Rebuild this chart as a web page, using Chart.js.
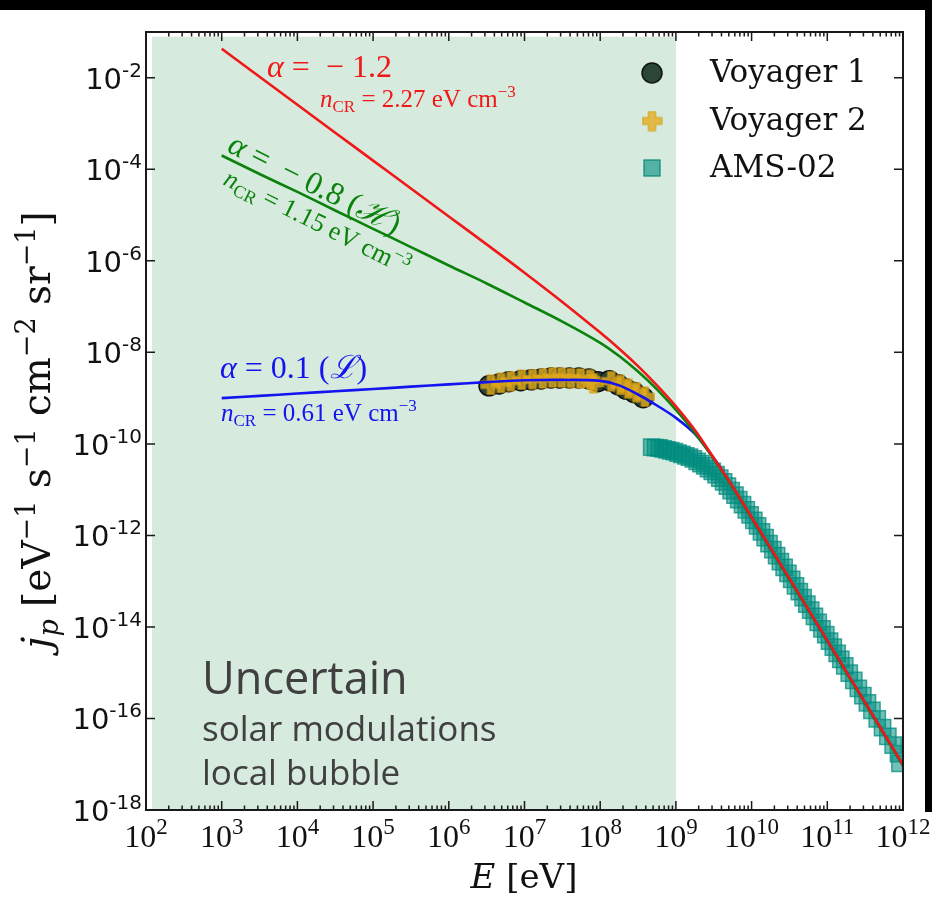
<!DOCTYPE html>
<html>
<head>
<meta charset="utf-8">
<script src="https://cdn.jsdelivr.net/npm/chart.js@4.4.0/dist/chart.umd.min.js"></script>
<style>
  html, body { margin: 0; padding: 0; background: #fff; }
</style>
</head>
<body>
<canvas id="myChart" width="932" height="898"></canvas>
<script>
// energies in eV, fluxes in eV^-1 s^-1 cm^-2 sr^-1
const curveE = [1e3, 3.16e3, 1e4, 3.16e4, 1e5, 3.16e5, 1e6, 3.16e6, 1e7, 3.16e7, 1e8, 1.78e8, 3.16e8, 5.62e8,
  1e9, 1.78e9, 3.16e9, 5.62e9, 1e10, 3.16e10, 1e11, 3.16e11, 1e12]
const fluxRed = [4.3e-2, 1.05e-2, 2.57e-3, 6.3e-4, 1.55e-4, 3.8e-5, 9.3e-6, 2.29e-6, 5.5e-7, 1.26e-7, 2.7e-8, 1.2e-8, 5.0e-9, 1.9e-9,
  6.6e-10, 2.0e-10, 4.9e-11, 1.17e-11, 2.5e-12, 1.15e-13, 5.1e-15, 2.24e-16, 9.8e-18]
const fluxGreen = [2.0e-4, 7.9e-5, 3.2e-5, 1.26e-5, 5.0e-6, 2.0e-6, 7.9e-7, 3.2e-7, 1.23e-7, 4.7e-8, 1.62e-8, 8.3e-9, 3.8e-9, 1.55e-9,
  5.5e-10, 1.74e-10, 4.7e-11, 1.12e-11, 2.4e-12, 1.1e-13, 4.9e-15, 2.14e-16, 9.3e-18]
const fluxBlue = [1.0e-9, 1.12e-9, 1.26e-9, 1.41e-9, 1.58e-9, 1.78e-9, 2.0e-9, 2.24e-9, 2.45e-9, 2.5e-9, 2.38e-9, 1.9e-9, 1.2e-9, 6.9e-10,
  3.7e-10, 1.66e-10, 4.9e-11, 1.15e-11, 2.45e-12, 1.12e-13, 5.0e-15, 2.2e-16, 9.5e-18]

const voy1E = [3.4e6, 4.6e6, 6.2e6, 8.9e6, 1.23e7, 1.66e7, 2.24e7, 2.9e7, 3.9e7, 5.2e7, 7.1e7, 9.3e7, 1.32e8, 1.74e8, 2.19e8, 2.82e8, 3.7e8]
const voy1Flux = [1.86e-9, 2.04e-9, 2.29e-9, 2.4e-9, 2.51e-9, 2.63e-9, 2.75e-9, 2.75e-9, 2.75e-9, 2.75e-9, 2.63e-9, 2.29e-9, 2.4e-9, 1.95e-9, 1.58e-9, 1.32e-9, 1.02e-9]
const voy2E = [3.6e6, 4.9e6, 6.6e6, 9.2e6, 1.28e7, 1.75e7, 2.35e7, 3.1e7, 4.1e7, 5.5e7, 7.4e7, 8.1e7, 1.4e8, 1.85e8, 2.35e8, 3.0e8, 3.9e8]
const voy2Flux = [1.95e-9, 2.14e-9, 2.34e-9, 2.51e-9, 2.6e-9, 2.69e-9, 2.82e-9, 2.82e-9, 2.75e-9, 2.69e-9, 2.51e-9, 2.1e-9, 2.34e-9, 1.95e-9, 1.62e-9, 1.35e-9, 1.07e-9]

const amsE = [4.79e8, 5.37e8, 6.03e8, 6.76e8, 7.59e8, 8.51e8, 9.55e8,
  1.07e9, 1.2e9, 1.35e9, 1.51e9, 1.7e9, 1.91e9, 2.14e9, 2.4e9, 2.69e9, 3.02e9, 3.39e9, 3.8e9, 4.27e9, 4.79e9, 5.37e9, 6.03e9, 6.76e9, 7.59e9, 8.51e9, 9.55e9,
  1.07e10, 1.2e10, 1.35e10, 1.51e10, 1.7e10, 1.91e10, 2.14e10, 2.4e10, 2.69e10, 3.02e10, 3.39e10, 3.8e10, 4.27e10, 4.79e10, 5.37e10, 6.03e10, 6.76e10, 7.59e10, 8.51e10, 9.55e10,
  1.07e11, 1.2e11, 1.35e11, 1.51e11, 1.7e11, 1.95e11, 2.24e11, 2.57e11, 2.95e11, 3.39e11, 3.89e11, 4.57e11, 5.37e11, 6.31e11, 7.41e11, 8.71e11, 9.12e11]
const amsFlux = [8.51e-11, 8.32e-11, 8.13e-11, 7.76e-11, 7.41e-11, 7.08e-11, 6.76e-11,
  6.31e-11, 5.89e-11, 5.5e-11, 5.13e-11, 4.68e-11, 4.17e-11, 3.72e-11, 3.31e-11, 2.88e-11, 2.51e-11, 2.14e-11, 1.78e-11, 1.48e-11, 1.2e-11, 9.55e-12, 7.59e-12, 6.03e-12, 4.68e-12, 3.63e-12, 2.82e-12,
  2.14e-12, 1.62e-12, 1.2e-12, 8.91e-13, 6.61e-13, 4.9e-13, 3.63e-13, 2.69e-13, 2.0e-13, 1.48e-13, 1.1e-13, 7.94e-14, 5.89e-14, 4.37e-14, 3.16e-14, 2.34e-14, 1.7e-14, 1.26e-14, 9.12e-15, 6.76e-15,
  4.9e-15, 3.63e-15, 2.63e-15, 1.95e-15, 1.41e-15, 9.77e-16, 6.76e-16, 4.57e-16, 3.16e-16, 2.19e-16, 1.51e-16, 9.77e-17, 6.31e-17, 4.07e-17, 2.63e-17, 1.7e-17, 1.05e-17]

const xTickExps = [2, 3, 4, 5, 6, 7, 8, 9, 10, 11, 12]
const yTickExps = [-2, -4, -6, -8, -10, -12, -14, -16, -18]
const legendLabels = ['Voyager 1', 'Voyager 2', 'AMS-02']

const RED = '#f01818', GREEN = '#0b820b', BLUE = '#1414f0'
const SERIF = '"Liberation Serif", "DejaVu Serif", serif'
const DSERIF = '"DejaVu Serif", serif'
const SANS = '"DejaVu Sans", sans-serif'

function toXY(xs, ys) {
  return xs.map((v, i) => ({ x: v, y: ys[i] }))
}

// filled plus marker for Voyager 2
function makePlus(size, arm) {
  const c = document.createElement('canvas')
  c.width = c.height = size
  const g = c.getContext('2d')
  const a = (size - arm) / 2, b = a + arm, p = 1, s = size - 1
  g.beginPath()
  g.moveTo(a, p); g.lineTo(b, p); g.lineTo(b, a); g.lineTo(s, a); g.lineTo(s, b); g.lineTo(b, b)
  g.lineTo(b, s); g.lineTo(a, s); g.lineTo(a, b); g.lineTo(p, b); g.lineTo(p, a); g.lineTo(a, a)
  g.closePath()
  g.fillStyle = 'rgba(228,172,28,0.78)'
  g.fill()
  g.strokeStyle = 'rgba(214,160,20,0.9)'
  g.lineWidth = 1.2
  g.stroke()
  return c
}
const plusImg = makePlus(21, 7)

// draw a run of text pieces (sub/superscripts) one after another
function drawRich(ctx, parts, x, y, align) {
  let w = 0
  parts.forEach(p => { ctx.font = p.f; w += ctx.measureText(p.t).width })
  let cx = align === 'center' ? x - w / 2 : align === 'right' ? x - w : x
  ctx.textAlign = 'left'
  ctx.textBaseline = 'alphabetic'
  parts.forEach(p => {
    ctx.font = p.f
    ctx.fillText(p.t, cx, y + (p.dy || 0))
    cx += ctx.measureText(p.t).width
  })
}

function nCR(value, big, small) {
  return [
    { t: 'n', f: 'italic ' + big + 'px ' + SERIF },
    { t: 'CR', f: small + 'px ' + SERIF, dy: 5 },
    { t: ' = ' + value + ' eV cm', f: big + 'px ' + SERIF },
    { t: '\u22123', f: small + 'px ' + SERIF, dy: -10 }
  ]
}

const decor = {
  id: 'decor',
  beforeDatasetsDraw(chart) {
    const { ctx, scales: { x, y } } = chart
    ctx.save()
    // uncertain region
    const l = x.getPixelForValue(1.2e2), r = x.getPixelForValue(1e9)
    const t = y.getPixelForValue(7.9e-2), b = y.getPixelForValue(1e-18)
    ctx.fillStyle = 'rgb(214,234,222)'
    ctx.fillRect(l, t, r - l, b - t)

    ctx.fillStyle = '#404040'
    ctx.textAlign = 'left'
    ctx.textBaseline = 'alphabetic'
    ctx.font = '45px "Open Sans", sans-serif'
    ctx.fillText('Uncertain', 202, 694)
    ctx.font = '35px "Open Sans", sans-serif'
    ctx.fillText('solar modulations', 202, 741)
    ctx.fillText('local bubble', 202, 785)
    ctx.restore()
  },
  afterDatasetsDraw(chart) {
    const { ctx, chartArea: ca, scales: { x, y } } = chart
    ctx.save()

    // frame
    ctx.strokeStyle = '#1a1a1a'
    ctx.lineWidth = 2
    ctx.strokeRect(ca.left, ca.top, ca.right - ca.left, ca.bottom - ca.top)

    // ticks
    ctx.lineWidth = 1.5
    ctx.beginPath()
    xTickExps.forEach((n, i) => {
      const px = x.getPixelForValue(Math.pow(10, n))
      ctx.moveTo(px, ca.bottom); ctx.lineTo(px, ca.bottom - 9)
      ctx.moveTo(px, ca.top); ctx.lineTo(px, ca.top + 9)
      if (i < xTickExps.length - 1) {
        for (let k = 2; k <= 9; k++) {
          const m = x.getPixelForValue(k * Math.pow(10, n))
          ctx.moveTo(m, ca.bottom); ctx.lineTo(m, ca.bottom - 4.5)
          ctx.moveTo(m, ca.top); ctx.lineTo(m, ca.top + 4.5)
        }
      }
    })
    yTickExps.forEach(n => {
      const py = y.getPixelForValue(Math.pow(10, n))
      ctx.moveTo(ca.left, py); ctx.lineTo(ca.left + 9, py)
      ctx.moveTo(ca.right, py); ctx.lineTo(ca.right - 9, py)
    })
    ctx.stroke()

    // tick labels
    ctx.fillStyle = '#111'
    xTickExps.forEach(n => {
      const px = x.getPixelForValue(Math.pow(10, n))
      drawRich(ctx, [
        { t: '10', f: '32px ' + SERIF },
        { t: String(n), f: '23px ' + SERIF, dy: -13 }
      ], px, 847, 'center')
    })
    yTickExps.forEach(n => {
      const py = y.getPixelForValue(Math.pow(10, n))
      drawRich(ctx, [
        { t: '10', f: '29px ' + SANS },
        { t: String(n), f: '20px ' + SANS, dy: -12 }
      ], 142, py + 11, 'right')
    })

    // axis titles
    drawRich(ctx, [
      { t: 'E', f: 'italic 34px ' + DSERIF },
      { t: ' [eV]', f: '34px ' + DSERIF }
    ], 524, 888, 'center')

    ctx.save()
    ctx.translate(50, 430)
    ctx.rotate(-Math.PI / 2)
    const big = '39px ' + DSERIF, sup = '27px ' + DSERIF
    drawRich(ctx, [
      { t: 'j', f: 'italic ' + big },
      { t: 'p', f: 'italic ' + sup, dy: 8 },
      { t: ' [eV', f: big },
      { t: '\u22121', f: sup, dy: -15 },
      { t: ' s', f: big },
      { t: '\u22121', f: sup, dy: -15 },
      { t: ' cm', f: big },
      { t: '\u22122', f: sup, dy: -15 },
      { t: ' sr', f: big },
      { t: '\u22121', f: sup, dy: -15 },
      { t: ']', f: big }
    ], 0, 0, 'center')
    ctx.restore()

    // curve annotations
    ctx.fillStyle = RED
    drawRich(ctx, [
      { t: '\u03b1', f: 'italic 32px ' + SERIF },
      { t: ' =  \u2212 1.2', f: '32px ' + SERIF }
    ], 267, 77, 'left')
    drawRich(ctx, nCR('2.27', 25, 17), 320, 107, 'left')

    ctx.fillStyle = GREEN
    ctx.save()
    ctx.translate(226, 151)
    ctx.rotate(26.5 * Math.PI / 180)
    drawRich(ctx, [
      { t: '\u03b1', f: 'italic 32px ' + SERIF },
      { t: ' =  \u2212 0.8 (', f: '32px ' + SERIF },
      { t: '\u210b', f: 'italic 32px ' + SERIF },
      { t: ')', f: '32px ' + SERIF }
    ], 0, 0, 'left')
    ctx.restore()
    ctx.save()
    ctx.translate(222, 184)
    ctx.rotate(26.5 * Math.PI / 180)
    drawRich(ctx, nCR('1.15', 26, 18), 0, 0, 'left')
    ctx.restore()

    ctx.fillStyle = BLUE
    drawRich(ctx, [
      { t: '\u03b1', f: 'italic 32px ' + SERIF },
      { t: ' = 0.1 (', f: '32px ' + SERIF },
      { t: '\u2112', f: 'italic 32px ' + SERIF },
      { t: ')', f: '32px ' + SERIF }
    ], 220, 378, 'left')
    drawRich(ctx, nCR('0.61', 25, 17), 221, 421, 'left')

    // legend
    const lx = 652, ly = [73, 121, 168]
    ctx.beginPath()
    ctx.arc(lx, ly[0], 10, 0, Math.PI * 2)
    ctx.fillStyle = '#2b4536'
    ctx.fill()
    ctx.strokeStyle = '#111'
    ctx.lineWidth = 1.5
    ctx.stroke()
    ctx.drawImage(plusImg, lx - plusImg.width / 2, ly[1] - plusImg.height / 2)
    ctx.fillStyle = 'rgba(0,140,125,0.6)'
    ctx.fillRect(lx - 8, ly[2] - 8, 16, 16)
    ctx.strokeStyle = 'rgba(0,140,125,0.8)'
    ctx.strokeRect(lx - 8, ly[2] - 8, 16, 16)
    ctx.fillStyle = '#111'
    ctx.font = '31px ' + DSERIF
    ctx.textAlign = 'left'
    ctx.textBaseline = 'middle'
    legendLabels.forEach((s, i) => ctx.fillText(s, 710, ly[i] + 1))

    // black borders of the original figure
    ctx.fillStyle = '#000'
    ctx.fillRect(0, 0, 932, 10)
    ctx.fillRect(925, 0, 7, 812)
    ctx.restore()
  }
}

var ctx = document.getElementById('myChart').getContext('2d')
var chart = new Chart(ctx, {
  type: 'line',
  data: {
    datasets: [
      {
        label: 'alpha = -1.2',
        data: toXY(curveE, fluxRed),
        borderColor: RED,
        borderWidth: 2.6,
        pointRadius: 0,
        tension: 0.35,
        order: 0
      },
      {
        label: 'alpha = -0.8',
        data: toXY(curveE, fluxGreen),
        borderColor: GREEN,
        borderWidth: 2.6,
        pointRadius: 0,
        tension: 0.35,
        order: 1
      },
      {
        label: 'alpha = 0.1',
        data: toXY(curveE, fluxBlue),
        borderColor: BLUE,
        borderWidth: 2.6,
        pointRadius: 0,
        tension: 0.35,
        order: 2
      },
      {
        label: 'AMS-02',
        data: toXY(amsE, amsFlux),
        showLine: false,
        pointStyle: 'rect',
        pointRadius: 11.5,
        pointBackgroundColor: 'rgba(0,140,125,0.55)',
        pointBorderColor: 'rgba(0,140,125,0.75)',
        pointBorderWidth: 1.5,
        order: 3
      },
      {
        label: 'Voyager 2',
        data: toXY(voy2E, voy2Flux),
        showLine: false,
        pointStyle: plusImg,
        pointRadius: 10,
        order: 4
      },
      {
        label: 'Voyager 1',
        data: toXY(voy1E, voy1Flux),
        showLine: false,
        pointStyle: 'circle',
        pointRadius: 10,
        pointBackgroundColor: '#2b4536',
        pointBorderColor: '#111',
        pointBorderWidth: 1.5,
        order: 5
      }
    ]
  },
  options: {
    responsive: false,
    animation: false,
    devicePixelRatio: 1,
    layout: { padding: { left: 146, right: 29, top: 32, bottom: 88 } },
    plugins: { legend: { display: false }, tooltip: { enabled: false } },
    scales: {
      x: { type: 'logarithmic', min: 1e2, max: 1e12, display: false },
      y: { type: 'logarithmic', min: 1e-18, max: 1e-1, display: false }
    }
  },
  plugins: [decor]
})
</script>
</body>
</html>
